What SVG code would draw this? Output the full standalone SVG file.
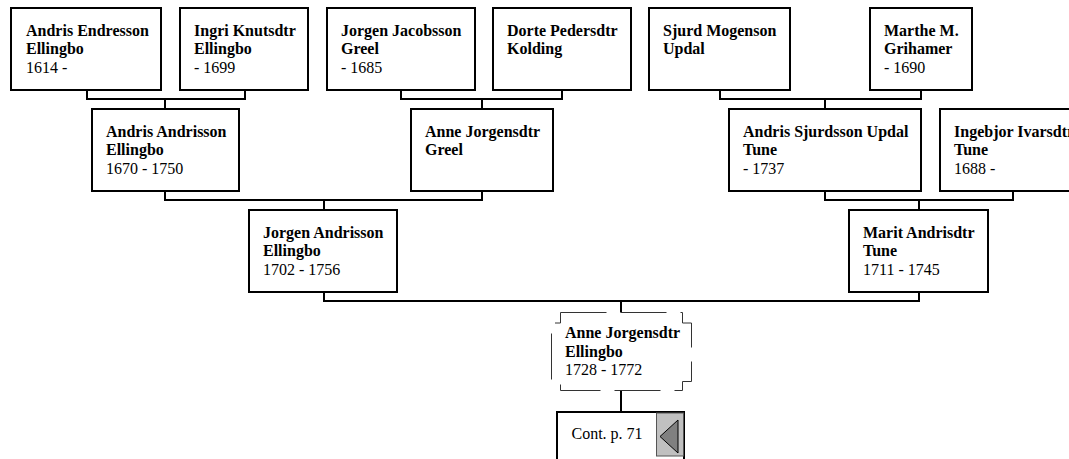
<svg xmlns="http://www.w3.org/2000/svg" width="1069" height="459" viewBox="0 0 1069 459">
<style>
.box{fill:#fff;stroke:#000;stroke-width:2}
.con{fill:none;stroke:#000;stroke-width:2}
.dash{fill:#fff;stroke:#333;stroke-width:1;stroke-dasharray:46 14}
text{font-family:"Liberation Serif","Times New Roman",serif;font-size:16px;fill:#000}
.b{font-weight:bold}
</style>
<rect width="1069" height="459" fill="#fff"/>
<g id="connectors">
<path class="con" d="M87 90V99H245V90M165 99V109"/>
<path class="con" d="M401 90V99H562V90M482 99V109"/>
<path class="con" d="M720 90V99H921V90M825 99V109"/>
<path class="con" d="M165 191V200H482V191M324 200V210"/>
<path class="con" d="M825 191V200H1013V191M919 200V210"/>
<path class="con" d="M324 292V301H919V292M621 301V312.5"/>
<path class="con" d="M621 390V412"/>
</g>
<g id="n1"><rect class="box" x="11" y="8" width="150" height="82"/>
<text x="26" y="36"><tspan class="b">Andris Endresson</tspan><tspan class="b" x="26" y="54.3">Ellingbo</tspan><tspan x="26" y="72.7">1614 -</tspan></text></g>
<g id="n2"><rect class="box" x="180" y="8" width="128" height="82"/>
<text x="194" y="36"><tspan class="b">Ingri Knutsdtr</tspan><tspan class="b" x="194" y="54.3">Ellingbo</tspan><tspan x="194" y="72.7">- 1699</tspan></text></g>
<g id="n3"><rect class="box" x="327" y="8" width="148" height="82"/>
<text x="341" y="36"><tspan class="b">Jorgen Jacobsson</tspan><tspan class="b" x="341" y="54.3">Greel</tspan><tspan x="341" y="72.7">- 1685</tspan></text></g>
<g id="n4"><rect class="box" x="493" y="8" width="138" height="82"/>
<text x="507" y="36"><tspan class="b">Dorte Pedersdtr</tspan><tspan class="b" x="507" y="54.3">Kolding</tspan></text></g>
<g id="n5"><rect class="box" x="649" y="8" width="141" height="82"/>
<text x="663" y="36"><tspan class="b">Sjurd Mogenson</tspan><tspan class="b" x="663" y="54.3">Updal</tspan></text></g>
<g id="n6"><rect class="box" x="870" y="8" width="102" height="82"/>
<text x="884" y="36"><tspan class="b">Marthe M.</tspan><tspan class="b" x="884" y="54.3">Grihamer</tspan><tspan x="884" y="72.7">- 1690</tspan></text></g>
<g id="n7"><rect class="box" x="92" y="109" width="147" height="82"/>
<text x="106" y="137"><tspan class="b">Andris Andrisson</tspan><tspan class="b" x="106" y="155.3">Ellingbo</tspan><tspan x="106" y="173.7">1670 - 1750</tspan></text></g>
<g id="n8"><rect class="box" x="411" y="109" width="142" height="82"/>
<text x="425" y="137"><tspan class="b">Anne Jorgensdtr</tspan><tspan class="b" x="425" y="155.3">Greel</tspan></text></g>
<g id="n9"><rect class="box" x="729" y="109" width="192" height="82"/>
<text x="743" y="137"><tspan class="b">Andris Sjurdsson Updal</tspan><tspan class="b" x="743" y="155.3">Tune</tspan><tspan x="743" y="173.7">- 1737</tspan></text></g>
<g id="n10"><rect class="box" x="940" y="109" width="146" height="82"/>
<text x="954" y="137"><tspan class="b">Ingebjor Ivarsdtr</tspan><tspan class="b" x="954" y="155.3">Tune</tspan><tspan x="954" y="173.7">1688 -</tspan></text></g>
<g id="n11"><rect class="box" x="249" y="210" width="148" height="82"/>
<text x="263" y="238"><tspan class="b">Jorgen Andrisson</tspan><tspan class="b" x="263" y="256.3">Ellingbo</tspan><tspan x="263" y="274.7">1702 - 1756</tspan></text></g>
<g id="n12"><rect class="box" x="849" y="210" width="139" height="82"/>
<text x="863" y="238"><tspan class="b">Marit Andrisdtr</tspan><tspan class="b" x="863" y="256.3">Tune</tspan><tspan x="863" y="274.7">1711 - 1745</tspan></text></g>
<g id="n13"><path class="dash" d="M560.5 312.5H682.5V323H691.5V381.5H682.5V390.5H560.5V381.5H551.5V323H560.5Z"/>
<text x="565" y="338"><tspan class="b">Anne Jorgensdtr</tspan><tspan class="b" x="565" y="356.5">Ellingbo</tspan><tspan x="565" y="374.5">1728 - 1772</tspan></text></g>
<g id="n14"><rect class="box" x="557" y="412" width="127" height="60"/>
<rect x="656.5" y="413" width="27" height="43" fill="#c0c0c0" stroke="#555" stroke-width="1"/>
<polygon points="660,436.5 678,420 678,453" fill="#808080" stroke="#000" stroke-width="1"/>
<text x="571.5" y="439">Cont. p. 71</text></g>
</svg>
